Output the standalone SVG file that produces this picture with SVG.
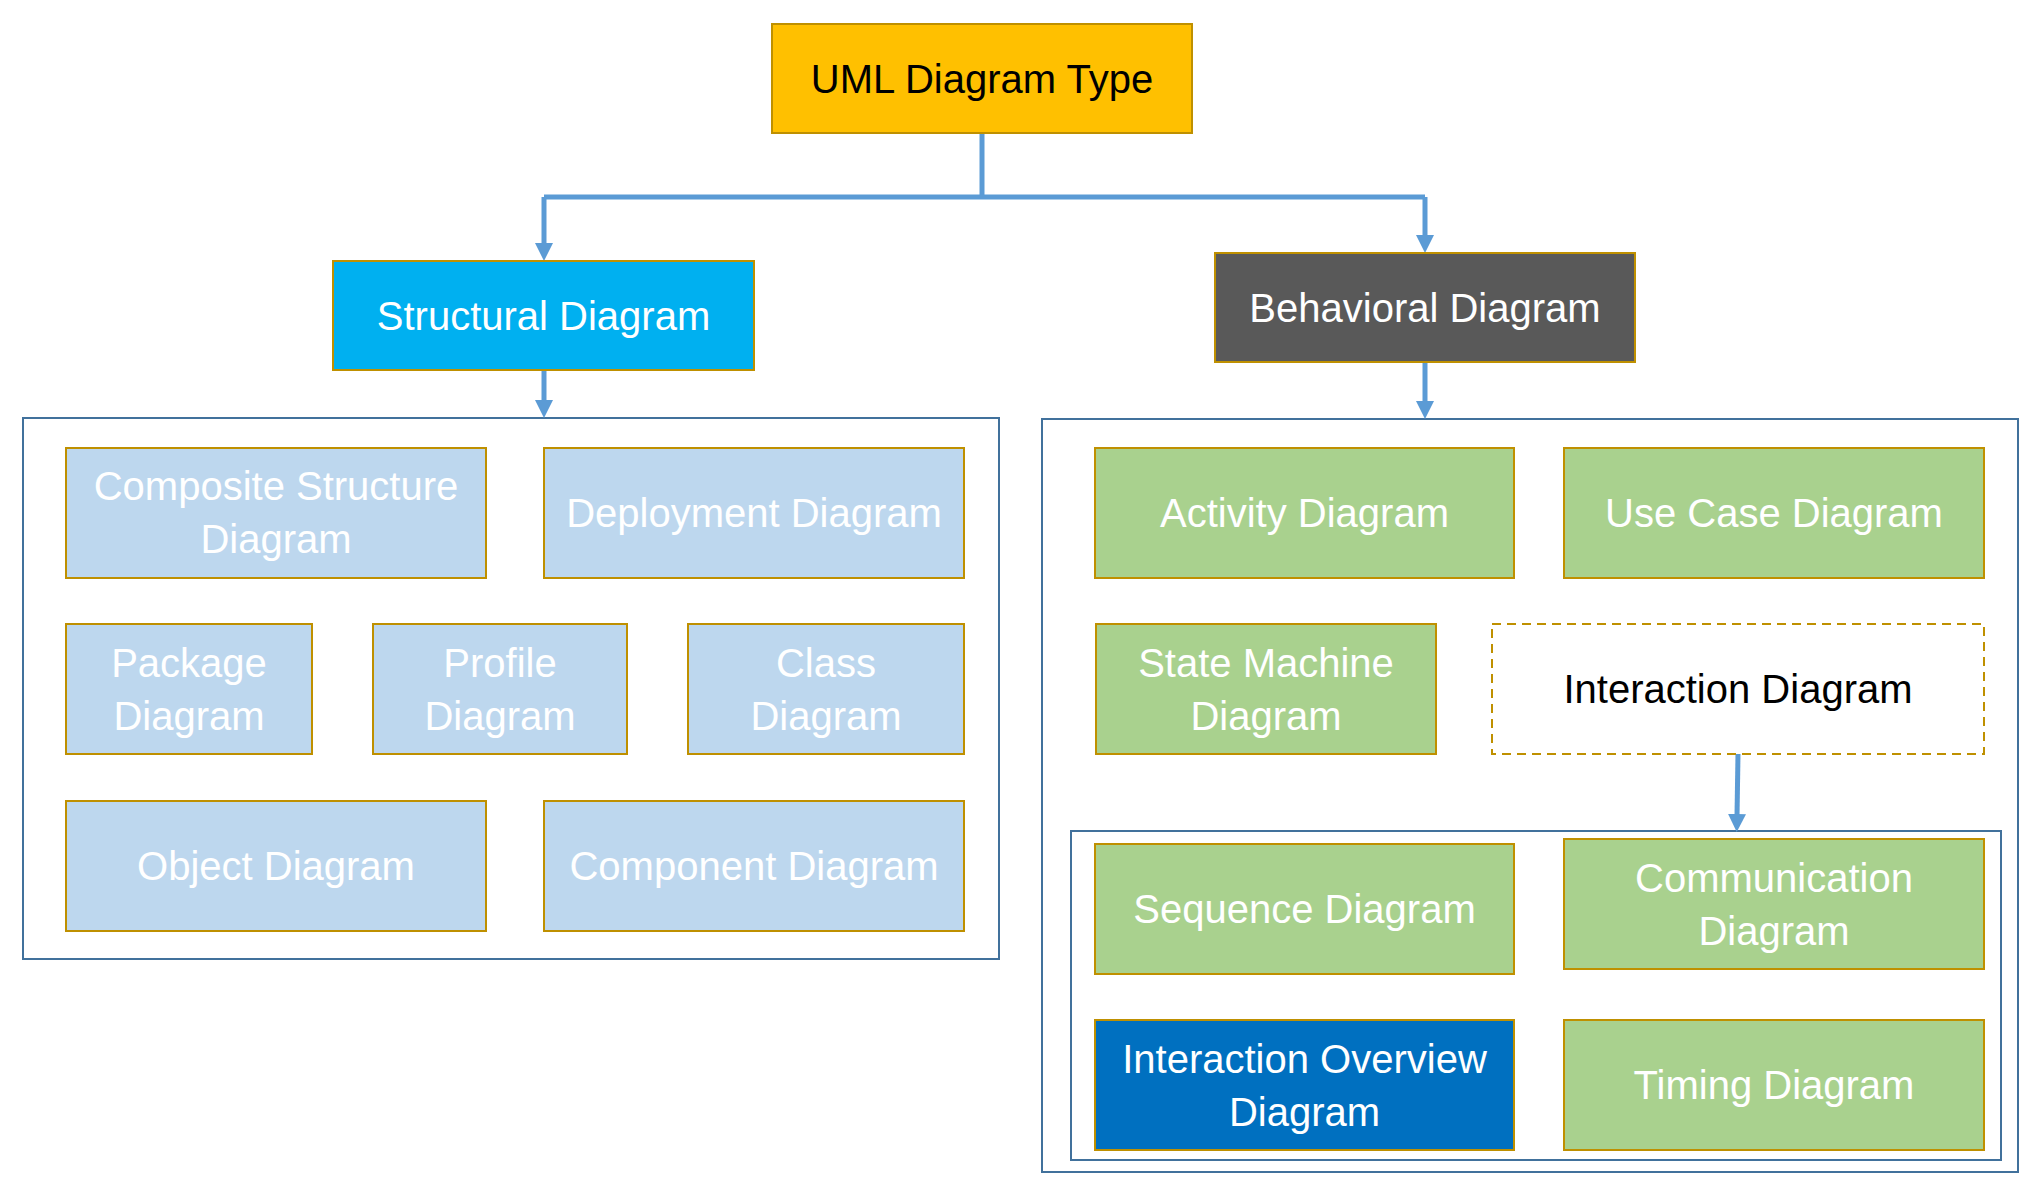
<svg xmlns="http://www.w3.org/2000/svg" width="2031" height="1191" viewBox="0 0 2031 1191">
<style>
  text { font-family: "Liberation Sans", Arial, sans-serif; font-size: 40px; text-anchor: middle; fill: #FFFFFF; }
  .dark { fill: #000000; }
  .box { stroke: #BF9000; stroke-width: 2; }
  .top { fill: #FFC000; }
  .struct { fill: #00B0F0; }
  .behav { fill: #595959; }
  .light { fill: #BDD7EE; }
  .green { fill: #A9D18E; }
  .blue { fill: #0070C0; }
  .dashed { fill: #FFFFFF; stroke-dasharray: 9 6; }
  .container { fill: none; stroke: #41719C; stroke-width: 2; }
  .conn { fill: none; stroke: #5B9BD5; stroke-width: 5; }
  .arrow { fill: none; stroke: #5B9BD5; stroke-width: 5; marker-end: url(#ah); }
</style>
<defs>
  <marker id="ah" viewBox="0 0 18 18" refX="2" refY="9" markerWidth="18" markerHeight="18" markerUnits="userSpaceOnUse" orient="auto">
    <path d="M0,0 L18,9 L0,18 z" fill="#5B9BD5"/>
  </marker>
</defs>
<rect width="2031" height="1191" fill="#FFFFFF"/>

<g id="containers">
  <rect id="structural-group" class="container" x="23" y="418" width="976" height="541"/>
  <rect id="behavioral-group" class="container" x="1042" y="419" width="976" height="753"/>
  <rect id="interaction-group" class="container" x="1071" y="831" width="930" height="329"/>
</g>

<g id="connectors">
  <path class="conn" d="M982,133 L982,197 M544,197 L1425,197"/>
  <path class="arrow" d="M544,197 L544,245"/>
  <path class="arrow" d="M1425,197 L1425,237"/>
  <path class="arrow" d="M544,370 L544,402"/>
  <path class="arrow" d="M1425,362 L1425,403"/>
  <path class="arrow" d="M1738,754 L1737,816"/>
</g>

<g id="uml-diagram-type">
  <rect class="box top" x="772" y="24" width="420" height="109"/>
  <text class="dark" x="982" y="92.5">UML Diagram Type</text>
</g>
<g id="structural-diagram">
  <rect class="box struct" x="333" y="261" width="421" height="109"/>
  <text x="543.5" y="330">Structural Diagram</text>
</g>
<g id="behavioral-diagram">
  <rect class="box behav" x="1215" y="253" width="420" height="109"/>
  <text x="1425" y="321.5">Behavioral Diagram</text>
</g>

<g id="composite-structure-diagram">
  <rect class="box light" x="66" y="448" width="420" height="130"/>
  <text x="276" y="500">Composite Structure</text>
  <text x="276" y="553">Diagram</text>
</g>
<g id="deployment-diagram">
  <rect class="box light" x="544" y="448" width="420" height="130"/>
  <text x="754" y="527">Deployment Diagram</text>
</g>
<g id="package-diagram">
  <rect class="box light" x="66" y="624" width="246" height="130"/>
  <text x="189" y="676.5">Package</text>
  <text x="189" y="729.5">Diagram</text>
</g>
<g id="profile-diagram">
  <rect class="box light" x="373" y="624" width="254" height="130"/>
  <text x="500" y="676.5">Profile</text>
  <text x="500" y="729.5">Diagram</text>
</g>
<g id="class-diagram">
  <rect class="box light" x="688" y="624" width="276" height="130"/>
  <text x="826" y="676.5">Class</text>
  <text x="826" y="729.5">Diagram</text>
</g>
<g id="object-diagram">
  <rect class="box light" x="66" y="801" width="420" height="130"/>
  <text x="276" y="880">Object Diagram</text>
</g>
<g id="component-diagram">
  <rect class="box light" x="544" y="801" width="420" height="130"/>
  <text x="754" y="880">Component Diagram</text>
</g>

<g id="activity-diagram">
  <rect class="box green" x="1095" y="448" width="419" height="130"/>
  <text x="1304.5" y="527">Activity Diagram</text>
</g>
<g id="use-case-diagram">
  <rect class="box green" x="1564" y="448" width="420" height="130"/>
  <text x="1774" y="527">Use Case Diagram</text>
</g>
<g id="state-machine-diagram">
  <rect class="box green" x="1096" y="624" width="340" height="130"/>
  <text x="1266" y="676.5">State Machine</text>
  <text x="1266" y="729.5">Diagram</text>
</g>
<g id="interaction-diagram">
  <rect class="box dashed" x="1492" y="624" width="492" height="130"/>
  <text class="dark" x="1738" y="703">Interaction Diagram</text>
</g>

<g id="sequence-diagram">
  <rect class="box green" x="1095" y="844" width="419" height="130"/>
  <text x="1304.5" y="923">Sequence Diagram</text>
</g>
<g id="communication-diagram">
  <rect class="box green" x="1564" y="839" width="420" height="130"/>
  <text x="1774" y="891.5">Communication</text>
  <text x="1774" y="944.5">Diagram</text>
</g>
<g id="interaction-overview-diagram">
  <rect class="box blue" x="1095" y="1020" width="419" height="130"/>
  <text x="1304.5" y="1072.5">Interaction Overview</text>
  <text x="1304.5" y="1125.5">Diagram</text>
</g>
<g id="timing-diagram">
  <rect class="box green" x="1564" y="1020" width="420" height="130"/>
  <text x="1774" y="1099">Timing Diagram</text>
</g>
</svg>
